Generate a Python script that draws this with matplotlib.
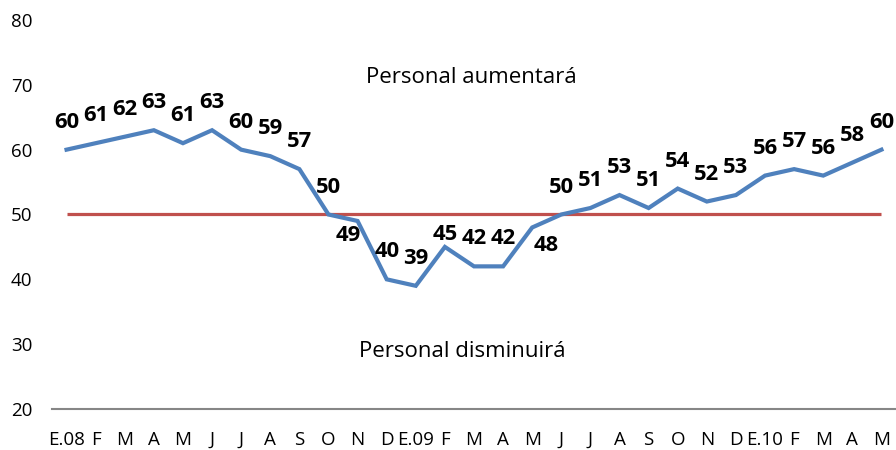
import matplotlib.pyplot as plt

MONTHS = ["E.08", "F", "M", "A", "M", "J", "J", "A", "S", "O", "N", "D",
          "E.09", "F", "M", "A", "M", "J", "J", "A", "S", "O", "N", "D",
          "E.10", "F", "M", "A", "M"]
VALUES = [60, 61, 62, 63, 61, 63, 60, 59, 57, 50, 49, 40, 39, 45, 42, 42, 48,
          50, 51, 53, 51, 54, 52, 53, 56, 57, 56, 58, 60]
THRESHOLD = 50

# label offsets in points (default: above the point)
LABEL_OFFSETS = {10: (-6.5, -14.6), 13: (0, 5), 16: (10, -17)}

plt.rcParams["font.family"] = ["Open Sans", "DejaVu Sans"]

fig = plt.figure(figsize=(8.96, 4.5), dpi=100)
ax = fig.add_axes([52 / 896, 1 - 409 / 450, 1 - 52 / 896, (409 - 20) / 450])

x = list(range(len(VALUES)))
ax.plot([0, len(VALUES) - 1], [THRESHOLD, THRESHOLD], color="#C0504D",
        linewidth=2.3, solid_capstyle="butt", zorder=2)
ax.plot(x, VALUES, color="#4F81BD", linewidth=3, solid_joinstyle="miter", zorder=3)

for i, v in enumerate(VALUES):
    dx, dy = LABEL_OFFSETS.get(i, (0, 15.8))
    ax.annotate(str(v), (i, v), xytext=(dx, dy), textcoords="offset points",
                ha="center", va="baseline", fontsize=15.8, fontweight="bold",
                color="black", zorder=4)

ax.text(13.9, 71.2, "Personal aumentará", ha="center", va="center", fontsize=16)
ax.text(13.6, 28.8, "Personal disminuirá", ha="center", va="center", fontsize=16)

ax.set_xlim(-0.5, len(VALUES) - 0.5)
ax.set_ylim(20, 80)
ax.set_yticks(range(20, 81, 10))
ax.set_xticks(x)
ax.set_xticklabels(MONTHS)
ax.tick_params(axis="y", length=0, pad=14, labelsize=13.5)
ax.tick_params(axis="x", length=0, pad=15.5, labelsize=13.5)

for side in ["top", "right", "left"]:
    ax.spines[side].set_visible(False)
ax.spines["bottom"].set_color("#868686")
ax.spines["bottom"].set_linewidth(1.5)

fig.savefig("out.png", dpi=100)
